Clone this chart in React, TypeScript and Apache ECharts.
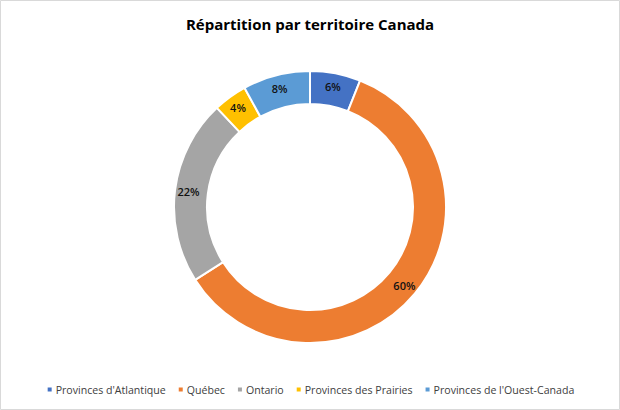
import React, { useEffect, useRef } from "react";
import * as echarts from "echarts";

const title = "Répartition par territoire Canada";
const categories = [
  "Provinces d'Atlantique",
  "Québec",
  "Ontario",
  "Provinces des Prairies",
  "Provinces de l'Ouest-Canada",
];
const values = [6, 60, 22, 4, 8];
const colors = ["#4472C4", "#ED7D31", "#A5A5A5", "#FFC000", "#5B9BD5"];

export default function App() {
  const ref = useRef<HTMLDivElement>(null);
  useEffect(() => {
    document.body.style.margin = "0";
    const chart = echarts.init(ref.current!, null, { renderer: "svg" });
    const font = "'Open Sans', 'Noto Sans', sans-serif";
    chart.setOption({
      animation: false,
      backgroundColor: "#fff",
      title: {
        text: title,
        left: "center",
        top: 11,
        textStyle: { fontFamily: font, fontWeight: "bold", fontSize: 15, color: "#000" },
      },
      legend: {
        bottom: 10,
        left: "center",
        icon: "rect",
        itemWidth: 6,
        itemHeight: 6,
        itemGap: 11,
        textStyle: { fontFamily: font, fontSize: 10.6, color: "#404040", padding: [0, 0, 0, -2] },
        data: categories,
      },
      graphic: [
        {
          type: "rect",
          shape: { x: 0.5, y: 0.5, width: 619, height: 409 },
          style: { fill: "none", stroke: "#D9D9D9", lineWidth: 1 },
          silent: true,
        },
      ],
      series: [
        {
          type: "pie",
          center: [310, 207],
          radius: [103, 136],
          startAngle: 90,
          clockwise: true,
          avoidLabelOverlap: false,
          color: colors,
          itemStyle: { borderColor: "#fff", borderWidth: 2 },
          label: {
            show: true,
            position: "inside",
            formatter: "{d}%",
            fontFamily: font,
            fontSize: 11,
            fontWeight: 600,
            color: "#111",
          },
          labelLine: { show: false },
          data: categories.map((c, i) => ({ name: c, value: values[i] })),
        },
      ],
    });
    return () => chart.dispose();
  }, []);
  return (
    <div
      ref={ref}
      style={{ position: "absolute", left: 0, top: 0, width: 620, height: 410 }}
    />
  );
}
